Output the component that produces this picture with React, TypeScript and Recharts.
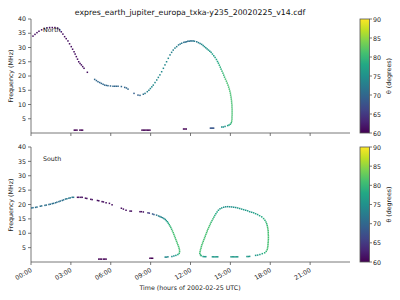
import React from 'react'
import { ScatterChart, Scatter, XAxis, YAxis } from 'recharts'

// [hour of day, frequency MHz, theta degrees]
type Pt = [number, number, number]

const title = 'expres_earth_jupiter_europa_txka-y235_20020225_v14.cdf'
const hourTicks = [0, 3, 6, 9, 12, 15, 18, 21]
const hourLabels = ['00:00', '03:00', '06:00', '09:00', '12:00', '15:00', '18:00', '21:00']
const freqTicks = [5, 10, 15, 20, 25, 30, 35, 40]
const thetaTicks = [60, 65, 70, 75, 80, 85, 90]

const northPoints: Pt[] = [
  [0.15, 34.0, 61], [0.3, 34.6, 61], [0.45, 35.2, 61], [0.6, 35.7, 61], [0.8, 36.2, 61], [1.0, 36.6, 61],
  [1.2, 36.9, 61], [1.4, 37.0, 61], [1.6, 37.0, 61], [1.8, 37.0, 61], [2.0, 36.8, 61], [2.15, 36.2, 61],
  [2.28, 35.5, 61], [2.4, 34.7, 61], [2.53, 33.8, 61], [2.65, 33.1, 61], [2.78, 32.3, 61], [2.9, 31.3, 61],
  [3.03, 30.3, 61], [3.13, 29.4, 61], [3.24, 28.5, 61], [3.32, 27.7, 61], [3.41, 26.8, 61], [3.5, 25.9, 61],
  [3.59, 25.0, 61], [3.69, 24.4, 61], [3.79, 23.9, 61], [3.89, 23.3, 61], [3.99, 22.7, 61], [4.24, 21.3, 61],
  [4.79, 18.8, 70], [4.92, 18.4, 70], [5.04, 18.0, 70], [5.17, 17.7, 70], [5.29, 17.4, 70], [5.42, 17.1, 70],
  [5.54, 16.8, 70], [5.67, 16.7, 70], [5.79, 16.6, 70], [5.98, 16.5, 70], [6.17, 16.4, 70], [6.3, 16.4, 70],
  [6.42, 16.4, 70], [6.55, 16.4, 70], [6.8, 16.3, 70], [7.05, 16.0, 70], [7.18, 15.8, 70], [7.3, 15.4, 70],
  [7.75, 13.9, 69],
  [8.05, 13.3, 69], [8.2, 13.2, 70], [8.45, 13.6, 71], [8.58, 13.9, 72], [8.75, 14.5, 73], [8.87, 15.0, 73],
  [8.98, 15.6, 74], [9.09, 16.2, 74], [9.2, 16.8, 74], [9.33, 17.7, 74], [9.46, 18.6, 74], [9.58, 19.5, 74],
  [9.7, 20.4, 74], [9.83, 21.5, 74], [9.96, 22.7, 74], [10.08, 23.9, 74], [10.2, 25.0, 74], [10.33, 26.2, 74],
  [10.46, 27.4, 73], [10.58, 28.3, 73], [10.7, 29.1, 73], [10.83, 29.8, 73], [10.96, 30.3, 73], [11.1, 30.9, 72],
  [11.22, 31.2, 72], [11.34, 31.5, 72], [11.5, 31.8, 71], [11.6, 31.9, 71], [11.7, 32.0, 71], [11.8, 32.2, 71],
  [11.9, 32.2, 71], [12.0, 32.3, 71], [12.1, 32.3, 71], [12.2, 32.3, 72], [12.3, 32.2, 72], [12.47, 32.0, 72],
  [12.6, 31.7, 73], [12.72, 31.4, 73], [12.84, 31.1, 74], [12.95, 30.7, 74], [13.05, 30.3, 75], [13.15, 29.9, 75],
  [13.25, 29.5, 75], [13.35, 29.1, 76], [13.45, 28.7, 76], [13.55, 28.3, 76], [13.65, 27.7, 77], [13.75, 27.1, 77],
  [13.85, 26.5, 77], [13.95, 25.8, 78], [14.03, 25.1, 78], [14.1, 24.5, 78], [14.17, 23.8, 79], [14.24, 23.1, 79],
  [14.3, 22.4, 79], [14.37, 21.7, 80], [14.44, 21.0, 80], [14.5, 20.3, 80], [14.56, 19.6, 80], [14.63, 18.9, 81],
  [14.7, 18.2, 81], [14.76, 17.5, 81], [14.82, 16.8, 81], [14.87, 16.1, 81], [14.92, 15.4, 81], [14.96, 14.7, 81],
  [15.0, 14.0, 81], [15.02, 13.3, 81], [15.05, 12.6, 81], [15.07, 11.9, 81], [15.09, 11.2, 81], [15.1, 10.5, 81],
  [15.12, 9.8, 81], [15.12, 9.1, 81], [15.13, 8.4, 81], [15.13, 7.7, 81], [15.13, 7.0, 81], [15.13, 6.3, 81],
  [15.12, 5.6, 81], [15.12, 4.9, 81], [15.1, 4.2, 81], [15.07, 3.6, 80], [15.0, 3.1, 79], [14.9, 2.8, 78],
  [14.8, 2.6, 77], [14.6, 2.3, 75], [14.47, 2.1, 75], [14.35, 2.1, 75],
  [13.5, 1.7, 68], [13.58, 1.7, 68], [13.66, 1.7, 68], [13.74, 1.7, 68],
  [3.26, 1.0, 60], [3.36, 1.0, 60], [3.46, 1.0, 60], [3.68, 1.0, 60], [3.78, 1.0, 60], [3.88, 1.0, 60],
  [8.35, 1.0, 60], [8.45, 1.0, 60], [8.55, 1.0, 60], [8.65, 1.0, 60], [8.75, 1.0, 60], [8.85, 1.0, 60], [8.95, 1.0, 60],
  [11.48, 1.4, 60], [11.58, 1.4, 60], [11.68, 1.4, 60],
]

const southPoints: Pt[] = [
  [0.05, 18.8, 71], [0.15, 18.9, 71], [0.35, 19.0, 71], [0.45, 19.1, 71], [0.7, 19.4, 71], [0.8, 19.5, 71],
  [1.05, 19.7, 71], [1.15, 19.8, 71], [1.35, 20.0, 71], [1.45, 20.1, 71], [1.6, 20.3, 71], [1.7, 20.4, 71],
  [1.85, 20.6, 71], [1.95, 20.8, 71], [2.1, 21.0, 71], [2.2, 21.2, 71], [2.35, 21.4, 71], [2.45, 21.6, 71],
  [2.6, 21.9, 72], [2.7, 22.0, 72], [2.85, 22.2, 72], [2.95, 22.3, 72], [3.1, 22.5, 72], [3.2, 22.5, 72],
  [3.5, 22.5, 61], [3.6, 22.5, 61], [3.75, 22.5, 61], [3.85, 22.5, 61], [4.1, 22.2, 61], [4.2, 22.1, 61],
  [4.5, 21.8, 61], [4.6, 21.7, 61], [5.0, 21.4, 61], [5.1, 21.3, 61], [5.35, 21.0, 61], [5.45, 20.9, 61],
  [5.65, 20.6, 61], [5.9, 20.4, 61], [6.1, 19.9, 61],
  [6.8, 18.7, 61], [6.95, 18.4, 61], [7.15, 18.0, 61], [7.45, 17.7, 61], [7.55, 17.7, 61],
  [8.2, 17.5, 61], [8.3, 17.5, 61], [8.45, 17.4, 61], [8.8, 17.1, 65], [8.9, 17.0, 65], [9.15, 16.7, 68],
  [9.25, 16.5, 69], [9.45, 16.3, 72], [9.6, 16.0, 73], [9.7, 15.8, 73], [9.8, 15.6, 73], [9.9, 15.4, 74],
  [10.0, 15.1, 74], [10.1, 14.8, 75], [10.18, 14.4, 76], [10.26, 14.0, 77], [10.33, 13.5, 78], [10.4, 13.0, 79],
  [10.46, 12.5, 80], [10.52, 12.0, 80], [10.58, 11.4, 80], [10.64, 10.8, 81], [10.7, 10.2, 81], [10.75, 9.6, 81],
  [10.8, 9.0, 81], [10.85, 8.4, 81], [10.9, 7.8, 81], [10.95, 7.2, 81], [11.0, 6.6, 81], [11.05, 6.0, 81],
  [11.1, 5.4, 81], [11.14, 4.8, 81], [11.17, 4.2, 81], [11.18, 3.6, 81], [11.15, 3.0, 80], [11.05, 2.6, 78],
  [10.9, 2.3, 76], [10.75, 2.1, 75], [10.6, 1.9, 75], [10.3, 1.8, 74], [10.2, 1.7, 74], [10.1, 1.7, 74],
  [12.7, 3.0, 80], [12.72, 3.6, 81], [12.75, 4.2, 81], [12.79, 4.8, 81], [12.82, 5.4, 81], [12.86, 6.0, 81],
  [12.91, 6.6, 81], [12.96, 7.2, 81], [13.01, 7.8, 81], [13.06, 8.4, 81], [13.11, 9.0, 81], [13.16, 9.6, 81],
  [13.21, 10.2, 81], [13.26, 10.8, 81], [13.31, 11.4, 81], [13.37, 12.0, 81], [13.43, 12.6, 81], [13.49, 13.2, 81],
  [13.55, 13.8, 80], [13.62, 14.4, 80], [13.69, 15.0, 80], [13.76, 15.6, 79], [13.83, 16.2, 79], [13.91, 16.8, 78],
  [14.0, 17.4, 78], [14.1, 18.0, 77], [14.22, 18.5, 76], [14.35, 18.8, 76], [14.5, 19.05, 75], [14.65, 19.2, 75],
  [14.8, 19.25, 75], [14.95, 19.2, 75], [15.1, 19.15, 75], [15.25, 19.05, 75], [15.4, 18.95, 75], [15.55, 18.8, 76],
  [15.7, 18.6, 76], [15.85, 18.4, 76], [16.0, 18.2, 76], [16.15, 18.0, 76], [16.3, 17.8, 76], [16.45, 17.5, 76],
  [16.6, 17.3, 76], [16.75, 17.1, 77], [16.9, 16.8, 77], [17.05, 16.5, 77], [17.2, 16.1, 78], [17.36, 15.7, 78],
  [17.5, 15.1, 79], [17.6, 14.5, 79], [17.68, 13.9, 80], [17.73, 13.3, 80], [17.77, 12.7, 80], [17.8, 12.1, 81],
  [17.82, 11.5, 81], [17.84, 10.9, 81], [17.85, 10.3, 81], [17.85, 9.7, 81], [17.86, 9.1, 81], [17.86, 8.5, 81],
  [17.86, 7.9, 81], [17.85, 7.3, 81], [17.84, 6.7, 81], [17.83, 6.1, 81], [17.82, 5.5, 81], [17.8, 4.9, 81],
  [17.77, 4.3, 81], [17.7, 3.7, 80], [17.58, 3.2, 79], [17.4, 2.9, 78], [17.22, 2.6, 77], [17.05, 2.4, 76],
  [16.9, 2.3, 76],
  [12.75, 2.5, 80], [12.8, 2.2, 79], [12.95, 1.9, 76], [13.05, 1.85, 76], [13.15, 1.85, 76],
  [13.65, 1.8, 76], [13.75, 1.8, 76], [13.85, 1.8, 76], [13.95, 1.8, 76], [14.05, 1.8, 76],
  [15.05, 1.8, 76], [15.15, 1.8, 76], [15.25, 1.8, 76], [15.35, 1.8, 76], [15.45, 1.8, 76], [15.55, 1.8, 76],
  [16.25, 1.9, 76], [16.35, 1.9, 76], [16.45, 1.95, 76],
  [5.1, 1.0, 60], [5.2, 1.0, 60], [5.3, 1.0, 60], [5.45, 1.0, 60], [5.55, 1.0, 60], [5.65, 1.0, 60],
  [8.95, 1.3, 60], [9.05, 1.3, 60], [9.15, 1.3, 60],
]

const FONT = 'DejaVu Sans'
const VIRIDIS = ['#440154', '#482475', '#414487', '#355f8d', '#2a788e', '#21918c', '#22a884', '#44bf70', '#7ad151', '#bddf26', '#fde725']

function hex(c: string) {
  return [1, 3, 5].map((i) => parseInt(c.slice(i, i + 2), 16))
}

function viridis(theta: number) {
  const t = Math.min(1, Math.max(0, (theta - 60) / 30)) * 10
  const i = Math.min(9, Math.floor(t))
  const a = hex(VIRIDIS[i])
  const b = hex(VIRIDIS[i + 1])
  const k = t - i
  const c = a.map((v, j) => Math.round(v + (b[j] - v) * k))
  return `rgb(${c[0]},${c[1]},${c[2]})`
}

const Marker = (props: any) => {
  const { cx, cy, payload } = props
  if (cx == null || cy == null) return <g />
  return <rect x={cx - 0.75} y={cy - 0.75} width={1.5} height={1.5} fill={viridis(payload.theta)} />
}

const TimeTick = (props: any) => {
  const { x, y, payload } = props
  const i = hourTicks.indexOf(payload.value)
  return (
    <text
      x={x - 1}
      y={y}
      transform={`rotate(-30, ${x - 1}, ${y})`}
      textAnchor="end"
      dominantBaseline="hanging"
      fontSize={6.3}
      fontFamily={FONT}
      fill="#222"
    >
      {hourLabels[i]}
    </text>
  )
}

const EmptyTick = () => <g />

interface PanelProps {
  points: Pt[]
  plotTop: number
  plotBottom: number
  showLabels: boolean
}

function Panel({ points, plotTop, plotBottom, showLabels }: PanelProps) {
  const data = points.map(([h, f, theta]) => ({ h, f, theta }))
  const xh = showLabels ? 30 : 5
  return (
    <div style={{ position: 'absolute', left: 0, top: 0 }}>
      <ScatterChart width={400} height={300} margin={{ top: plotTop, right: 50, bottom: 300 - plotBottom - xh, left: 0 }}>
        <XAxis
          xAxisId="b"
          type="number"
          dataKey="h"
          domain={[0, 24]}
          ticks={hourTicks}
          interval={0}
          height={xh}
          tickSize={3}
          allowDataOverflow
          axisLine={{ stroke: '#555', strokeWidth: 0.8 }}
          tickLine={{ stroke: '#555', strokeWidth: 0.8 }}
          tick={showLabels ? <TimeTick /> : <EmptyTick />}
        />
        <XAxis xAxisId="t" orientation="top" type="number" domain={[0, 24]} height={0} tick={false} tickLine={false}
          axisLine={{ stroke: '#555', strokeWidth: 0.8 }} />
        <YAxis
          yAxisId="l"
          type="number"
          dataKey="f"
          domain={[0, 40]}
          ticks={freqTicks}
          interval={0}
          width={31}
          tickSize={3}
          allowDataOverflow
          axisLine={{ stroke: '#555', strokeWidth: 0.8 }}
          tickLine={{ stroke: '#555', strokeWidth: 0.8 }}
          tick={{ fontSize: 6.3, fontFamily: FONT, fill: '#222' }}
        />
        <YAxis yAxisId="r" orientation="right" type="number" domain={[0, 40]} width={0} tick={false} tickLine={false}
          axisLine={{ stroke: '#555', strokeWidth: 0.8 }} />
        <Scatter xAxisId="b" yAxisId="l" data={data} isAnimationActive={false} shape={Marker} />
      </ScatterChart>
    </div>
  )
}

function ColorBar({ top, bottom, id }: { top: number; bottom: number; id: string }) {
  const x = 360
  const w = 9.5
  const hgt = bottom - top
  return (
    <g>
      <defs>
        <linearGradient id={id} x1="0" y1="1" x2="0" y2="0">
          {VIRIDIS.map((c, i) => (
            <stop key={i} offset={i / 10} stopColor={c} />
          ))}
        </linearGradient>
      </defs>
      <rect x={x} y={top} width={w} height={hgt} fill={`url(#${id})`} stroke="#555" strokeWidth={0.8} />
      {thetaTicks.map((t) => {
        const y = top + ((90 - t) / 30) * hgt
        return (
          <g key={t}>
            <line x1={x + w} x2={x + w + 2.5} y1={y} y2={y} stroke="#555" strokeWidth={0.8} />
            <text x={x + w + 3.5} y={y} dominantBaseline="central" fontSize={6.3} fontFamily={FONT} fill="#222">
              {t}
            </text>
          </g>
        )
      })}
      <text
        x={388}
        y={top + hgt / 2}
        transform={`rotate(-90, 388, ${top + hgt / 2})`}
        textAnchor="middle"
        dominantBaseline="central"
        fontSize={6.3}
        fontFamily={FONT}
        fill="#222"
      >
        θ (degrees)
      </text>
    </g>
  )
}

export default function App() {
  return (
    <div style={{ position: 'absolute', left: 0, top: 0, width: 400, height: 300, background: '#fff', overflow: 'hidden' }}>
      <Panel points={northPoints} plotTop={19} plotBottom={133} showLabels={false} />
      <Panel points={southPoints} plotTop={147} plotBottom={262} showLabels />
      <svg width={400} height={300} style={{ position: 'absolute', left: 0, top: 0, pointerEvents: 'none' }}>
        <text x={190} y={12} textAnchor="middle" dominantBaseline="central" fontSize={7.8} fontFamily={FONT} fill="#111">
          {title}
        </text>
        <text x={10} y={76} transform="rotate(-90, 10, 76)" textAnchor="middle" dominantBaseline="central" fontSize={6.3} fontFamily={FONT} fill="#222">
          Frequency (MHz)
        </text>
        <text x={10} y={205} transform="rotate(-90, 10, 205)" textAnchor="middle" dominantBaseline="central" fontSize={6.3} fontFamily={FONT} fill="#222">
          Frequency (MHz)
        </text>
        <text x={43} y={29.5} dominantBaseline="central" fontSize={6.3} fontFamily={FONT} fill="#222">North</text>
        <text x={43} y={158.5} dominantBaseline="central" fontSize={6.3} fontFamily={FONT} fill="#222">South</text>
        <text x={190} y={287} textAnchor="middle" dominantBaseline="central" fontSize={6.3} fontFamily={FONT} fill="#222">
          Time (hours of 2002-02-25 UTC)
        </text>
        <ColorBar top={19} bottom={133} id="cb1" />
        <ColorBar top={147} bottom={262} id="cb2" />
      </svg>
    </div>
  )
}
